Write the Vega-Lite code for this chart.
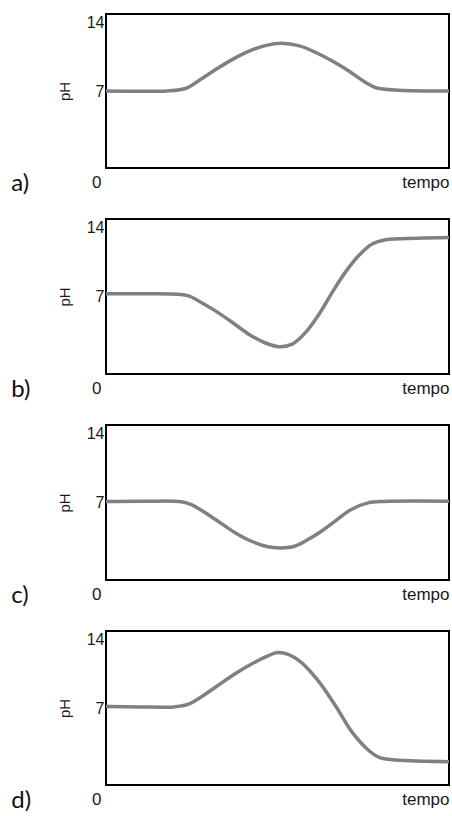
{
  "$schema": "https://vega.github.io/schema/vega-lite/v6.json",
  "background": "white",
  "padding": {"left": 10, "top": 13, "right": 2, "bottom": 0},
  "bounds": "flush",
  "spacing": 51,
  "config": {
    "view": {"stroke": "black", "strokeWidth": 2},
    "font": "Liberation Sans",
    "axis": {"domain": false, "ticks": false, "grid": false, "labelColor": "#1a1a1a", "titleColor": "#1a1a1a"},
    "title": {"orient": "bottom", "anchor": "start", "frame": "bounds", "font": "Lato", "fontSize": 24, "fontWeight": "normal", "color": "#111", "offset": -18, "dx": -46},
    "line": {"interpolate": "catmull-rom", "color": "#808080", "strokeWidth": 3.5}
  },
  "datasets": {
    "a": [
      {"t": 0, "ph": 7.0}, {"t": 10, "ph": 6.98}, {"t": 17.6, "ph": 7.0}, {"t": 23.4, "ph": 7.25},
      {"t": 27.3, "ph": 8.0}, {"t": 32.2, "ph": 9.0}, {"t": 37.0, "ph": 9.9}, {"t": 41.9, "ph": 10.65},
      {"t": 46.7, "ph": 11.15}, {"t": 51.1, "ph": 11.33}, {"t": 56.4, "ph": 11.1}, {"t": 61.2, "ph": 10.5},
      {"t": 66.1, "ph": 9.7}, {"t": 70.9, "ph": 8.8}, {"t": 75.8, "ph": 7.75}, {"t": 78.7, "ph": 7.3},
      {"t": 85.5, "ph": 7.07}, {"t": 100, "ph": 7.0}
    ],
    "b": [
      {"t": 0, "ph": 7.25}, {"t": 12, "ph": 7.25}, {"t": 21.2, "ph": 7.2}, {"t": 24.1, "ph": 7.05},
      {"t": 27.0, "ph": 6.6}, {"t": 31.9, "ph": 5.7}, {"t": 36.8, "ph": 4.67}, {"t": 41.6, "ph": 3.6},
      {"t": 46.5, "ph": 2.8}, {"t": 50.4, "ph": 2.47}, {"t": 54.3, "ph": 2.7}, {"t": 58.2, "ph": 3.76},
      {"t": 62.1, "ph": 5.4}, {"t": 66.0, "ph": 7.4}, {"t": 69.8, "ph": 9.2}, {"t": 73.7, "ph": 10.7},
      {"t": 77.6, "ph": 11.74}, {"t": 81.5, "ph": 12.13}, {"t": 85.4, "ph": 12.22}, {"t": 100, "ph": 12.34}
    ],
    "c": [
      {"t": 0, "ph": 7.1}, {"t": 12, "ph": 7.12}, {"t": 22.0, "ph": 7.06}, {"t": 24.9, "ph": 6.8},
      {"t": 27.8, "ph": 6.3}, {"t": 32.7, "ph": 5.3}, {"t": 37.5, "ph": 4.3}, {"t": 42.4, "ph": 3.5},
      {"t": 47.2, "ph": 3.0}, {"t": 51.1, "ph": 2.9}, {"t": 55.0, "ph": 3.05}, {"t": 58.9, "ph": 3.65},
      {"t": 62.8, "ph": 4.4}, {"t": 66.7, "ph": 5.3}, {"t": 71.5, "ph": 6.37}, {"t": 76.4, "ph": 6.97},
      {"t": 81.2, "ph": 7.1}, {"t": 100, "ph": 7.12}
    ],
    "d": [
      {"t": 0, "ph": 7.14}, {"t": 10, "ph": 7.1}, {"t": 19.7, "ph": 7.1}, {"t": 24.1, "ph": 7.35},
      {"t": 27.5, "ph": 7.95}, {"t": 32.4, "ph": 9.0}, {"t": 37.4, "ph": 10.07}, {"t": 42.3, "ph": 10.98},
      {"t": 47.2, "ph": 11.73}, {"t": 49.7, "ph": 12.03}, {"t": 53.1, "ph": 11.88}, {"t": 57.0, "ph": 11.13},
      {"t": 61.9, "ph": 9.46}, {"t": 66.9, "ph": 7.2}, {"t": 71.8, "ph": 4.78}, {"t": 76.7, "ph": 3.11},
      {"t": 79.6, "ph": 2.51}, {"t": 84.6, "ph": 2.27}, {"t": 100, "ph": 2.12}
    ]
  },
  "vconcat": [
    {
      "width": 343, "height": 154,
      "data": {"name": "a"},
      "title": "a)",
      "mark": {"type": "line"},
      "encoding": {
        "x": {"field": "t", "type": "quantitative", "scale": {"domain": [0, 100], "nice": false},
          "axis": {"values": [0, 100], "labelExpr": "datum.value == 0 ? '0' : 'tempo'", "title": null, "labelFontSize": 17, "labelPadding": 6, "labelAlign": "right", "labelOffset": {"expr": "datum.value == 0 ? -5 : 0"}}},
        "y": {"field": "ph", "type": "quantitative", "scale": {"domain": [0, 14], "nice": false},
          "axis": {"values": [7, 14], "title": "pH", "labelFontSize": 16, "labelPadding": 2, "labelFlush": true, "titleFontSize": 15, "titleFontWeight": "normal", "titlePadding": 14}}
      }
    },
    {
      "width": 343, "height": 155,
      "data": {"name": "b"},
      "title": "b)",
      "mark": {"type": "line"},
      "encoding": {
        "x": {"field": "t", "type": "quantitative", "scale": {"domain": [0, 100], "nice": false},
          "axis": {"values": [0, 100], "labelExpr": "datum.value == 0 ? '0' : 'tempo'", "title": null, "labelFontSize": 17, "labelPadding": 6, "labelAlign": "right", "labelOffset": {"expr": "datum.value == 0 ? -5 : 0"}}},
        "y": {"field": "ph", "type": "quantitative", "scale": {"domain": [0, 14], "nice": false},
          "axis": {"values": [7, 14], "title": "pH", "labelFontSize": 16, "labelPadding": 2, "labelFlush": true, "titleFontSize": 15, "titleFontWeight": "normal", "titlePadding": 14}}
      }
    },
    {
      "width": 343, "height": 155,
      "data": {"name": "c"},
      "title": "c)",
      "mark": {"type": "line"},
      "encoding": {
        "x": {"field": "t", "type": "quantitative", "scale": {"domain": [0, 100], "nice": false},
          "axis": {"values": [0, 100], "labelExpr": "datum.value == 0 ? '0' : 'tempo'", "title": null, "labelFontSize": 17, "labelPadding": 6, "labelAlign": "right", "labelOffset": {"expr": "datum.value == 0 ? -5 : 0"}}},
        "y": {"field": "ph", "type": "quantitative", "scale": {"domain": [0, 14], "nice": false},
          "axis": {"values": [7, 14], "title": "pH", "labelFontSize": 16, "labelPadding": 2, "labelFlush": true, "titleFontSize": 15, "titleFontWeight": "normal", "titlePadding": 14}}
      }
    },
    {
      "width": 343, "height": 154,
      "data": {"name": "d"},
      "title": "d)",
      "mark": {"type": "line"},
      "encoding": {
        "x": {"field": "t", "type": "quantitative", "scale": {"domain": [0, 100], "nice": false},
          "axis": {"values": [0, 100], "labelExpr": "datum.value == 0 ? '0' : 'tempo'", "title": null, "labelFontSize": 17, "labelPadding": 6, "labelAlign": "right", "labelOffset": {"expr": "datum.value == 0 ? -5 : 0"}}},
        "y": {"field": "ph", "type": "quantitative", "scale": {"domain": [0, 14], "nice": false},
          "axis": {"values": [7, 14], "title": "pH", "labelFontSize": 16, "labelPadding": 2, "labelFlush": true, "titleFontSize": 15, "titleFontWeight": "normal", "titlePadding": 14}}
      }
    }
  ]
}
